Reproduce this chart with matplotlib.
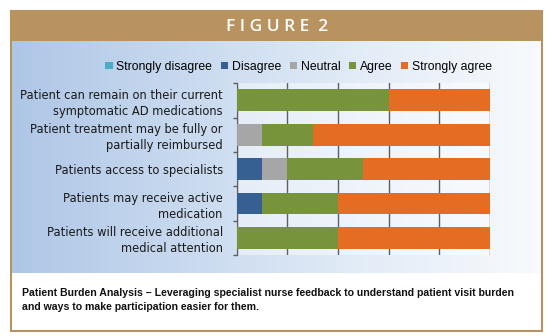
import numpy as np
import matplotlib
matplotlib.use("Agg")
import matplotlib.pyplot as plt
from matplotlib.patches import Rectangle
from matplotlib.colors import LinearSegmentedColormap

# data, top bar first
categories = ["Patient can remain on their current\nsymptomatic AD medications",
              "Patient treatment may be fully or\npartially reimbursed",
              "Patients access to specialists",
              "Patients may receive active\nmedication",
              "Patients will receive additional\nmedical attention"]
series_names = ["Strongly disagree", "Disagree", "Neutral", "Agree", "Strongly agree"]
strongly_disagree = [0, 0, 0, 0, 0]
disagree = [0, 0, 10, 10, 0]
neutral = [0, 10, 10, 0, 0]
agree = [60, 20, 30, 30, 40]
strongly_agree = [40, 70, 50, 60, 60]
colors = ["#4BACC6", "#376092", "#A6A6A6", "#77933C", "#E46C23"]
caption = ("Patient Burden Analysis \u2013 Leveraging specialist nurse feedback to understand patient visit burden\n"
           "and ways to make participation easier for them.")

W, H = 550, 336
fig = plt.figure(figsize=(W / 100, H / 100), dpi=100)
fig.patch.set_facecolor("white")

# background / frame in pixel coords
bg = fig.add_axes([0, 0, 1, 1])
bg.set_xlim(0, W)
bg.set_ylim(H, 0)
bg.axis("off")
brown = "#B8935F"
grad = LinearSegmentedColormap.from_list("g", ["#AEC6E6", "#C9DAEF", "#E3ECF7", "#F8FAFD"])
bg.imshow(np.linspace(0, 1, 256)[None, :], cmap=grad, aspect="auto",
          extent=(11, 542, 273, 41), zorder=1)
bg.add_patch(Rectangle((11, 10.7), 531, 30.5, facecolor=brown, edgecolor="none", zorder=2))
bg.add_patch(Rectangle((11, 10.7), 531, 320.3, facecolor="none", edgecolor=brown, lw=1.5, zorder=3))

fig.text(0.504, 1 - 27 / H, "F I G U R E  2", color="white", fontsize=12.5,
         fontweight="semibold", family="Open Sans", ha="center", va="center")

fig.text(21.8 / W, 1 - 288 / H, caption, fontsize=7.6, fontweight="bold",
         family="Liberation Sans", ha="left", va="top",
         linespacing=1.5, color="#111111")

# chart
ax = fig.add_axes([236.7 / W, 1 - 255 / H, (490 - 236.7) / W, (255 - 83.3) / H])
ax.patch.set_facecolor("white")
ax.patch.set_alpha(0.45)
y = np.arange(len(categories))
left = np.zeros(len(categories))
handles = []
for name, vals, c in zip(series_names,
                         [strongly_disagree, disagree, neutral, agree, strongly_agree], colors):
    h = ax.barh(y, vals, left=left, height=0.64, color=c, label=name, zorder=3)
    handles.append(h)
    left += np.array(vals)

ax.set_xlim(0, 100)
ax.set_ylim(len(categories) - 0.5, -0.5)
ax.set_xticks(np.arange(0, 101, 20))
ax.tick_params(axis="x", length=0, labelbottom=False)
ax.grid(axis="x", color="#5E5E5E", lw=1, zorder=1)
ax.set_yticks(y)
ax.set_yticklabels(categories, family="DejaVu Sans", fontsize=8.3, color="#1A1A1A", linespacing=1.3)
ax.set_yticks(np.arange(-0.5, len(categories), 1), minor=True)
ax.tick_params(axis="y", which="major", length=0, pad=10)
ax.tick_params(axis="y", which="minor", length=3, color="#5E5E5E", width=1)
for s in ["top", "right", "bottom"]:
    ax.spines[s].set_visible(False)
ax.spines["left"].set_color("#5E5E5E")

fig.legend(handles=handles, loc="center", bbox_to_anchor=(0.543, 1 - 66.7 / H), ncol=5,
           frameon=False, prop={"family": "Liberation Sans", "size": 8.8},
           handlelength=0.6, handleheight=0.6, handletextpad=0.3, columnspacing=0.7)

fig.savefig("out.png", dpi=100)
